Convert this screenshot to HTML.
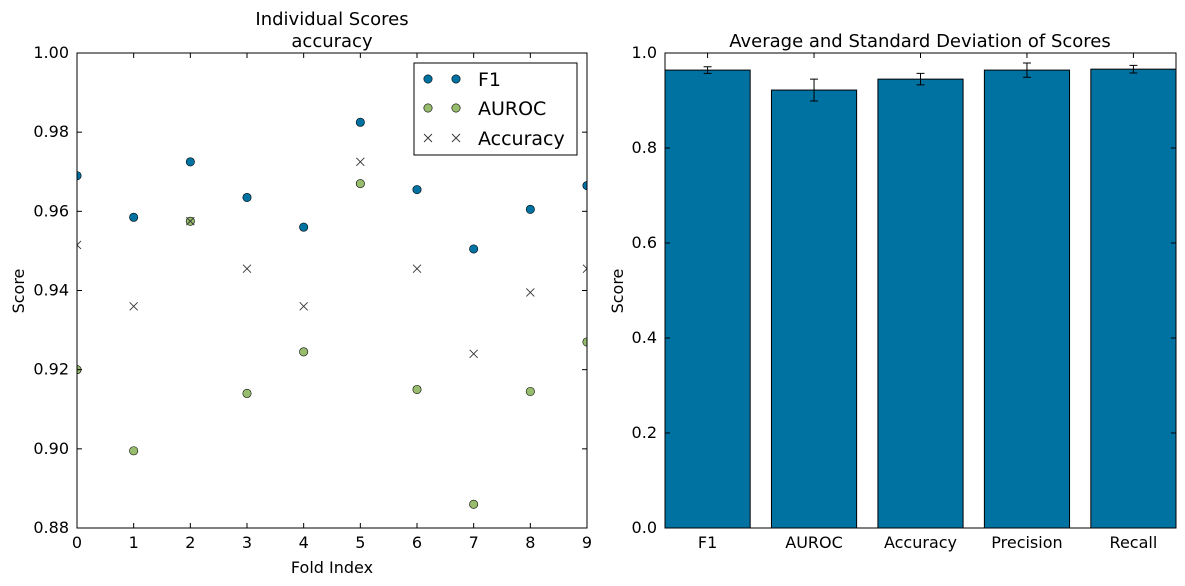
<!DOCTYPE html>
<html><head><meta charset="utf-8"><style>
body{margin:0;background:#fff;}
svg{display:block;font-family:"DejaVu Sans","Liberation Sans",sans-serif;}
</style></head><body>
<svg id="c" width="1185" height="586" xmlns="http://www.w3.org/2000/svg"></svg>
<script>
const folds=[0,1,2,3,4,5,6,7,8,9];
const f1Scores=[0.969,0.9585,0.9725,0.9635,0.956,0.9825,0.9655,0.9505,0.9605,0.9665];
const aurocScores=[0.920,0.8995,0.9575,0.914,0.9245,0.967,0.915,0.886,0.9145,0.927];
const accScores=[0.9515,0.936,0.9575,0.9455,0.936,0.9725,0.9455,0.924,0.9395,0.9455];
const leftYTicks=["0.88","0.90","0.92","0.94","0.96","0.98","1.00"];
const barCats=["F1","AUROC","Accuracy","Precision","Recall"];
const barMeans=[0.964,0.922,0.945,0.964,0.966];
const barStds=[0.007,0.023,0.012,0.015,0.008];
const rightYTicks=["0.0","0.2","0.4","0.6","0.8","1.0"];

const svg=document.getElementById('c');
const NS='http://www.w3.org/2000/svg';
function mk(tag,attrs,text,parent){const e=document.createElementNS(NS,tag);for(const k in attrs)e.setAttribute(k,attrs[k]);if(text!==undefined&&text!==null)e.textContent=text;(parent||svg).appendChild(e);return e;}
const FS=16;

// Left axes
const L={x0:77,x1:587,y0:53,y1:528};
const lx=v=>L.x0+(v-0)/9*(L.x1-L.x0);
const ly=v=>L.y1-(v-0.88)/0.12*(L.y1-L.y0);
const defs=mk('defs',{});
const cp=mk('clipPath',{id:'lclip'},null,defs);
mk('rect',{x:L.x0,y:L.y0,width:L.x1-L.x0,height:L.y1-L.y0},null,cp);
let e=mk('rect',{x:L.x0,y:L.y0,width:L.x1-L.x0,height:L.y1-L.y0,fill:'#fff',stroke:'none'});


const pts=mk('g',{'clip-path':'url(#lclip)'});


function cross(x,y,name,parent){const g=document.createElementNS(NS,'path');g.setAttribute('d',`M${x-4},${y-4}L${x+4},${y+4}M${x-4},${y+4}L${x+4},${y-4}`);g.setAttribute('stroke','#333');g.setAttribute('stroke-width','0.9');(parent||svg).appendChild(g);
 
 }
folds.forEach((f,i)=>{
 e=mk('circle',{cx:lx(f),cy:ly(f1Scores[i]),r:4.2,fill:'#0072a2',stroke:'#000','stroke-width':0.6},null,pts);
 
 
 e=mk('circle',{cx:lx(f),cy:ly(aurocScores[i]),r:4.2,fill:'#97bc6e',stroke:'#000','stroke-width':0.6},null,pts);
 
 
 cross(lx(f),ly(accScores[i]),'accuracy-point',pts);
});
e=mk('rect',{x:L.x0,y:L.y0,width:L.x1-L.x0,height:L.y1-L.y0,fill:'none',stroke:'#000'});


leftYTicks.forEach(t=>{const y=ly(parseFloat(t));
 mk('line',{x1:L.x0,x2:L.x0+5,y1:y,y2:y,stroke:'#000'});mk('line',{x1:L.x1,x2:L.x1-5,y1:y,y2:y,stroke:'#000'});
 e=mk('text',{x:L.x0-8,y:y+5,'text-anchor':'end','font-size':FS},t);
 
 });
folds.forEach(f=>{const x=lx(f);
 mk('line',{x1:x,x2:x,y1:L.y1,y2:L.y1-5,stroke:'#000'});mk('line',{x1:x,x2:x,y1:L.y0,y2:L.y0+5,stroke:'#000'});
 e=mk('text',{x:x,y:L.y1+20,'text-anchor':'middle','font-size':FS},String(f));
 
 });
// legend
e=mk('rect',{x:414,y:63,width:163,height:92,fill:'#fff',stroke:'#000'});


[[79,'#0072a2','F1'],[108,'#97bc6e','AUROC']].forEach(r=>{
 [428,456].forEach(x=>mk('circle',{cx:x,cy:r[0],r:4.2,fill:r[1],stroke:'#000','stroke-width':0.6}));
 e=mk('text',{x:478,y:r[0]+7,'font-size':19},r[2]);
 
 });
cross(428,138,'legend-marker');cross(456,138,'legend-marker');
e=mk('text',{x:478,y:145,'font-size':19},'Accuracy');


e=mk('text',{x:332,y:25,'text-anchor':'middle','font-size':18},'Individual Scores');


e=mk('text',{x:332,y:47,'text-anchor':'middle','font-size':18},'accuracy');


e=mk('text',{x:332,y:573,'text-anchor':'middle','font-size':FS},'Fold Index');


e=mk('text',{x:24,y:291,'text-anchor':'middle','font-size':FS,transform:'rotate(-90 24 291)'},'Score');



// Right axes
const R={x0:665,x1:1176,y0:53,y1:528};
const rx=v=>R.x0+(v+0.4)/4.8*(R.x1-R.x0);
const ry=v=>R.y1-v*(R.y1-R.y0);
e=mk('rect',{x:R.x0,y:R.y0,width:R.x1-R.x0,height:R.y1-R.y0,fill:'#fff',stroke:'#000'});


barCats.forEach((c,i)=>{
 const bw=0.8*(R.x1-R.x0)/4.8;
 e=mk('rect',{x:rx(i)-bw/2,y:ry(barMeans[i]),width:bw,height:ry(0)-ry(barMeans[i]),fill:'#0072a2',stroke:'#000','stroke-width':1});
 
 
 const x=rx(i),yt=ry(barMeans[i]+barStds[i]),yb=ry(barMeans[i]-barStds[i]);
 e=mk('path',{d:`M${x},${yt}L${x},${yb}M${x-4},${yt}L${x+4},${yt}M${x-4},${yb}L${x+4},${yb}`,stroke:'#000','stroke-width':1,fill:'none'});
 
 
 mk('line',{x1:x,x2:x,y1:R.y0,y2:R.y0+5,stroke:'#000'});
 e=mk('text',{x:x,y:R.y1+20,'text-anchor':'middle','font-size':FS},c);
 
 
});
rightYTicks.forEach(t=>{const y=ry(parseFloat(t));
 mk('line',{x1:R.x0,x2:R.x0+5,y1:y,y2:y,stroke:'#000'});mk('line',{x1:R.x1,x2:R.x1-5,y1:y,y2:y,stroke:'#000'});
 e=mk('text',{x:R.x0-8,y:y+5,'text-anchor':'end','font-size':FS},t);
 
 });
e=mk('rect',{x:R.x0,y:R.y0,width:R.x1-R.x0,height:R.y1-R.y0,fill:'none',stroke:'#000'});


e=mk('text',{x:920,y:47,'text-anchor':'middle','font-size':18},'Average and Standard Deviation of Scores');


e=mk('text',{x:623,y:291,'text-anchor':'middle','font-size':FS,transform:'rotate(-90 623 291)'},'Score');


</script>
</body></html>
